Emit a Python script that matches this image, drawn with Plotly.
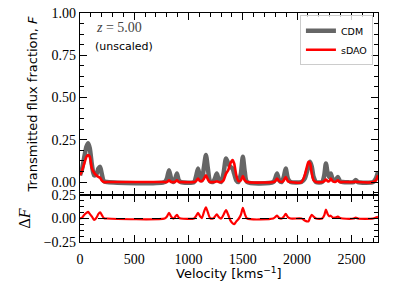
import plotly.graph_objects as go
from plotly.subplots import make_subplots

velocity = [0, 20, 40, 60, 75, 90, 110, 130, 150, 170, 185, 200, 220, 250,
            780, 800, 820, 840, 860, 875, 893, 910, 930,
            1050, 1068, 1087, 1105, 1122, 1142, 1160, 1178, 1198, 1225, 1242, 1260, 1278, 1300,
            1322, 1345, 1365, 1385, 1405, 1420, 1440, 1460, 1482, 1500, 1518, 1540,
            1780, 1798, 1815, 1835, 1858, 1877, 1895, 1915, 1940,
            2040, 2070, 2090, 2105, 2120, 2135, 2152, 2175,
            2230, 2250, 2265, 2282, 2296, 2310, 2328, 2350, 2375, 2395, 2420,
            2520, 2540, 2560, 2700, 2725, 2745]
flux_cdm = [0.04, 0.08, 0.15, 0.21, 0.23, 0.20, 0.10, 0.04, 0.045, 0.08, 0.09, 0.05, 0.005, 0.0,
            0.0, 0.02, 0.07, 0.02, 0.0, 0.015, 0.05, 0.01, 0.0,
            0.0, 0.03, 0.08, 0.03, 0.01, 0.09, 0.16, 0.08, 0.005, 0.0, 0.02, 0.05, 0.015, 0.0,
            0.05, 0.14, 0.11, 0.09, 0.08, 0.05, 0.01, 0.0, 0.05, 0.15, 0.06, 0.0,
            0.0, 0.02, 0.05, 0.01, 0.0, 0.03, 0.08, 0.02, 0.0,
            0.0, 0.02, 0.06, 0.09, 0.12, 0.09, 0.03, 0.0,
            0.0, 0.04, 0.11, 0.05, 0.03, 0.05, 0.015, 0.01, 0.03, 0.005, 0.0,
            0.0, 0.012, 0.0, 0.0, 0.02, 0.06]
flux_sdao = [0.04, 0.07, 0.11, 0.15, 0.16, 0.15, 0.08, 0.055, 0.04, 0.03, 0.025, 0.01, 0.0, 0.0,
             0.0, 0.0, 0.01, 0.0, 0.0, 0.0, 0.01, 0.0, 0.0,
             0.0, 0.005, 0.02, 0.005, 0.005, 0.02, 0.04, 0.015, 0.0, 0.0, 0.0, 0.005, 0.0, 0.0,
             0.01, 0.05, 0.07, 0.11, 0.13, 0.11, 0.04, 0.005, 0.01, 0.035, 0.01, 0.0,
             0.0, 0.005, 0.02, 0.005, 0.0, 0.01, 0.03, 0.005, 0.0,
             0.0, 0.04, 0.09, 0.12, 0.11, 0.05, 0.01, 0.0,
             0.0, 0.005, 0.015, 0.005, 0.005, 0.02, 0.005, 0.0, 0.01, 0.0, 0.0,
             0.0, 0.002, 0.0, 0.0, 0.01, 0.04]
delta_f = [c - s for c, s in zip(flux_cdm, flux_sdao)]

x_ticks = [0, 500, 1000, 1500, 2000, 2500]
y_ticks_top = [0.0, 0.25, 0.5, 0.75, 1.0]
y_ticks_bot = [-0.25, 0.0, 0.25]

fig = make_subplots(rows=2, cols=1, shared_xaxes=True, vertical_spacing=0,
                    row_heights=[0.795, 0.205])

fig.add_trace(go.Scatter(x=velocity, y=flux_cdm, mode="lines", name="CDM",
                         line=dict(color="#666666", width=4.5, shape="spline", smoothing=0.7)),
              row=1, col=1)
fig.add_trace(go.Scatter(x=velocity, y=flux_sdao, mode="lines", name="sDAO",
                         line=dict(color="#ff0000", width=2.6, shape="spline", smoothing=0.7)),
              row=1, col=1)
fig.add_trace(go.Scatter(x=velocity, y=delta_f, mode="lines", showlegend=False,
                         line=dict(color="#ff0000", width=2.2, shape="spline", smoothing=0.7)),
              row=2, col=1)
fig.add_trace(go.Scatter(x=[0, 2745], y=[0, 0], mode="lines", showlegend=False,
                         line=dict(color="black", width=1, dash="dash")),
              row=2, col=1)

tickfont = dict(family="Liberation Serif", size=14, color="black")
axis_common = dict(showline=True, linecolor="black", linewidth=1.3, mirror="allticks",
                   ticks="inside", ticklen=7, tickwidth=1.3, tickcolor="black",
                   showgrid=False, zeroline=False, tickfont=tickfont, automargin=False)

fig.update_xaxes(range=[0, 2745], tickvals=x_ticks, **axis_common,
                 minor=dict(dtick=100, ticklen=4, tickwidth=1, tickcolor="black", ticks="inside"))
fig.update_xaxes(showticklabels=False, row=1, col=1)
fig.update_xaxes(ticktext=[str(t) for t in x_ticks], ticklabelstandoff=4, row=2, col=1)
fig.update_yaxes(range=[-0.077, 1.0], tickvals=y_ticks_top,
                 ticktext=["%.2f" % t for t in y_ticks_top], **axis_common,
                 minor=dict(dtick=0.0625, tick0=0, ticklen=4, tickwidth=1, tickcolor="black", ticks="inside"),
                 row=1, col=1)
fig.update_yaxes(range=[-0.25, 0.25], tickvals=y_ticks_bot,
                 ticktext=["\u22120.25", "0.00", "0.25"], **axis_common,
                 minor=dict(dtick=0.0625, tick0=0, ticklen=4, tickwidth=1, tickcolor="black", ticks="inside"),
                 row=2, col=1)

fig.update_layout(
    width=399, height=285,
    margin=dict(l=80, r=21, t=13, b=43, autoexpand=False),
    paper_bgcolor="white", plot_bgcolor="white",
    showlegend=True,
    legend=dict(x=0.983, y=0.99, xanchor="right", yanchor="top",
                bgcolor="rgba(255,255,255,0.8)", bordercolor="#cccccc", borderwidth=1,
                font=dict(family="DejaVu Sans", size=9.5, color="black"),
                itemwidth=30, tracegroupgap=0),
    annotations=[
        dict(text="<i>z</i> = 5.00", xref="paper", yref="paper", x=0, y=1, xshift=14, yshift=-5,
             xanchor="left", yanchor="top", showarrow=False,
             font=dict(family="Liberation Serif", size=14, color="#444444")),
        dict(text="(unscaled)", xref="paper", yref="paper", x=0, y=1, xshift=13, yshift=-25,
             xanchor="left", yanchor="top", showarrow=False,
             font=dict(family="DejaVu Sans", size=11, color="black")),
        dict(text="Transmitted flux fraction, <i>F</i>", xref="paper", yref="paper",
             x=0, y=0.6, xshift=-47, textangle=-90, showarrow=False,
             xanchor="center", yanchor="middle",
             font=dict(family="DejaVu Sans", size=13, color="black")),
        dict(text="\u0394<i>F</i>", xref="paper", yref="paper",
             x=0, y=0.1026, xshift=-55, textangle=-90, showarrow=False,
             xanchor="center", yanchor="middle",
             font=dict(family="Liberation Serif", size=16, color="black")),
        dict(text="Velocity [kms<sup>\u22121</sup>]", xref="paper", yref="paper",
             x=0.5, y=0, yshift=-21, showarrow=False, xanchor="center", yanchor="top",
             font=dict(family="DejaVu Sans", size=13, color="black")),
    ],
)

fig.write_html("out.html", config={"displayModeBar": False},
               post_script="document.body.style.margin='0';document.body.style.padding='0';")
